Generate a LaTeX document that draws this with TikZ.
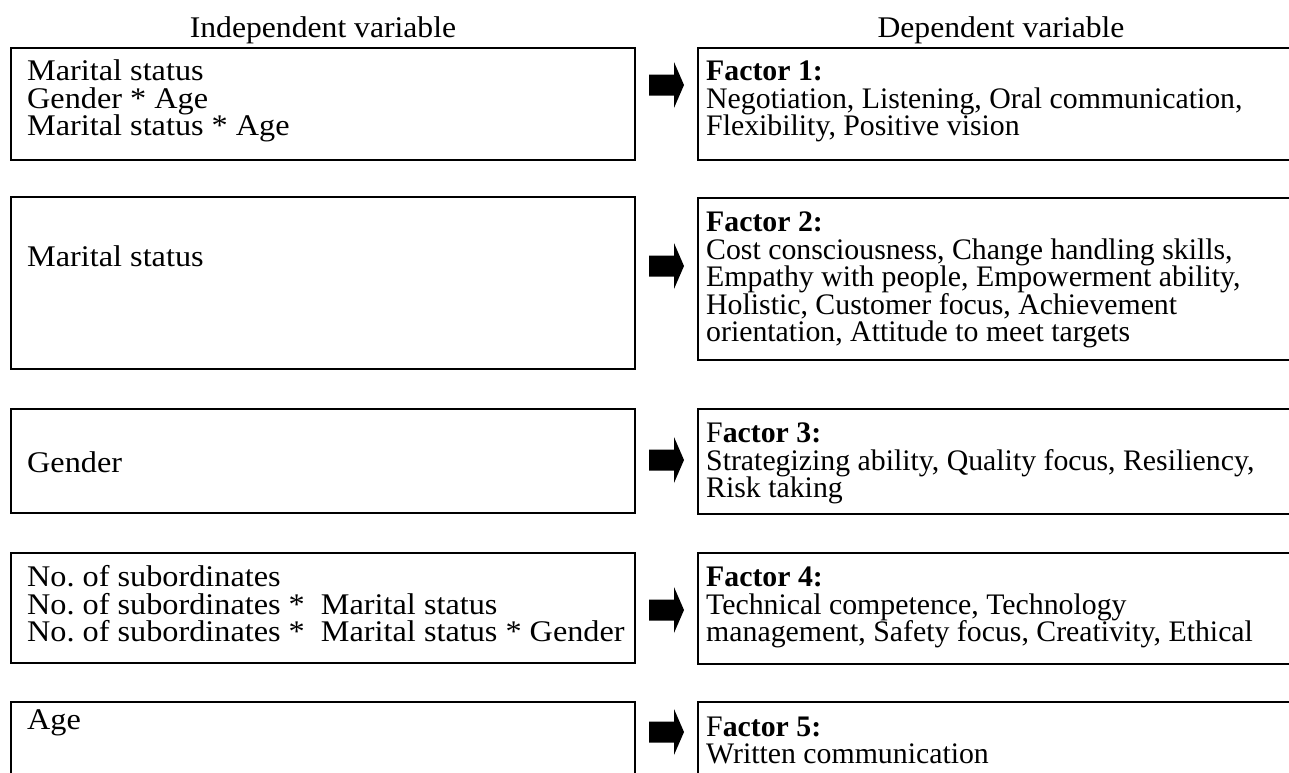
\documentclass[tikz,border=0pt]{standalone}
\usepackage{fontspec}
\setmainfont{Liberation Serif}
\newfontfamily\widefont{Liberation Serif}[FakeStretch=1.055]
\newfontfamily\widerfont{Liberation Serif}[FakeStretch=1.075]
\begin{document}
\begin{tikzpicture}[x=1pt,y=-1pt,
  box/.style={draw, line width=2.3pt, rectangle, anchor=north west, inner sep=0pt, outer sep=0pt},
  ltxt/.style={anchor=base west, inner sep=0pt, font=\widerfont\fontsize{30}{30}\selectfont},
  rtxt/.style={anchor=base west, inner sep=0pt, font=\fontsize{29.8}{30}\selectfont},
  head/.style={anchor=base, inner sep=0pt, font=\widefont\fontsize{30}{30}\selectfont},
  blockarrow/.pic={\fill (0,-10.5) -- (25,-10.5) -- (25,-23) -- (35,0) -- (25,23) -- (25,10.5) -- (0,10.5) -- cycle;}
]
\clip (0,0) rectangle (1289,772);

% column headings
\node[head] (hin) at (323,37) {Independent variable};
\node[head] (hdep) at (1001,37) {Dependent variable};

% left column: independent variables
\node[box, minimum width=624, minimum height=112] (l1) at (11,48) {};
\node[box, minimum width=624, minimum height=172] (l2) at (11,197) {};
\node[box, minimum width=624, minimum height=104] (l3) at (11,409) {};
\node[box, minimum width=624, minimum height=110] (l4) at (11,553) {};
\node[box, minimum width=624, minimum height=110] (l5) at (11,702) {};

% right column: dependent variables (factors)
\node[box, minimum width=620, minimum height=112] (r1) at (698,48) {};
\node[box, minimum width=620, minimum height=162] (r2) at (698,198) {};
\node[box, minimum width=620, minimum height=105] (r3) at (698,409) {};
\node[box, minimum width=620, minimum height=111] (r4) at (698,553) {};
\node[box, minimum width=620, minimum height=110] (r5) at (698,702) {};

% texts of the left boxes
\path (l1.north west) ++(16,32.5) node[ltxt] (l1a) {Marital status}
      ++(0,27.5) node[ltxt] (l1b) {Gender * Age}
      ++(0,27.5) node[ltxt] (l1c) {Marital status * Age};
\path (l2.north west) ++(16,69) node[ltxt] (l2a) {Marital status};
\path (l3.north west) ++(16,63) node[ltxt] (l3a) {Gender};
\path (l4.north west) ++(16,33.5) node[ltxt] (l4a) {No.\ of subordinates}
      ++(0,27.5) node[ltxt] (l4b) {No.\ of subordinates *\ \ Marital status}
      ++(0,27.5) node[ltxt] (l4c) {No.\ of subordinates *\ \ Marital status * Gender};
\path (l5.north west) ++(16,27) node[ltxt] (l5a) {Age};

% texts of the right boxes
\path (r1.north west) ++(8,32.5) node[rtxt] (r1a) {\textbf{Factor 1:}}
      ++(0,27.5) node[rtxt] (r1b) {Negotiation, Listening, Oral communication,}
      ++(0,27.5) node[rtxt] (r1c) {Flexibility, Positive vision};
\path (r2.north west) ++(8,33.5) node[rtxt] (r2a) {\textbf{Factor 2:}}
      ++(0,27.5) node[rtxt] (r2b) {Cost consciousness, Change handling skills,}
      ++(0,27.5) node[rtxt] (r2c) {Empathy with people, Empowerment ability,}
      ++(0,27.5) node[rtxt] (r2d) {Holistic, Customer focus, Achievement}
      ++(0,27.5) node[rtxt] (r2e) {orientation, Attitude to meet targets};
\path (r3.north west) ++(8,33.5) node[rtxt] (r3a) {F\textbf{actor 3:}}
      ++(0,27.5) node[rtxt] (r3b) {Strategizing ability, Quality focus, Resiliency,}
      ++(0,27.5) node[rtxt] (r3c) {Risk taking};
\path (r4.north west) ++(8,33.5) node[rtxt] (r4a) {\textbf{Factor 4:}}
      ++(0,27.5) node[rtxt] (r4b) {Technical competence, Technology}
      ++(0,27.5) node[rtxt] (r4c) {management, Safety focus, Creativity, Ethical};
\path (r5.north west) ++(8,34) node[rtxt] (r5a) {F\textbf{actor 5:}}
      ++(0,27.5) node[rtxt] (r5b) {Written communication};

% block arrows from each independent box to its factor box
\path (l1.east) ++(14,-19) pic {blockarrow};
\path (l2.east) ++(14,-17) pic {blockarrow};
\path (l3.east) ++(14,-1) pic {blockarrow};
\path (l4.east) ++(14,2) pic {blockarrow};
\path (l5.north east) ++(14,30) pic {blockarrow};
\end{tikzpicture}
\end{document}
